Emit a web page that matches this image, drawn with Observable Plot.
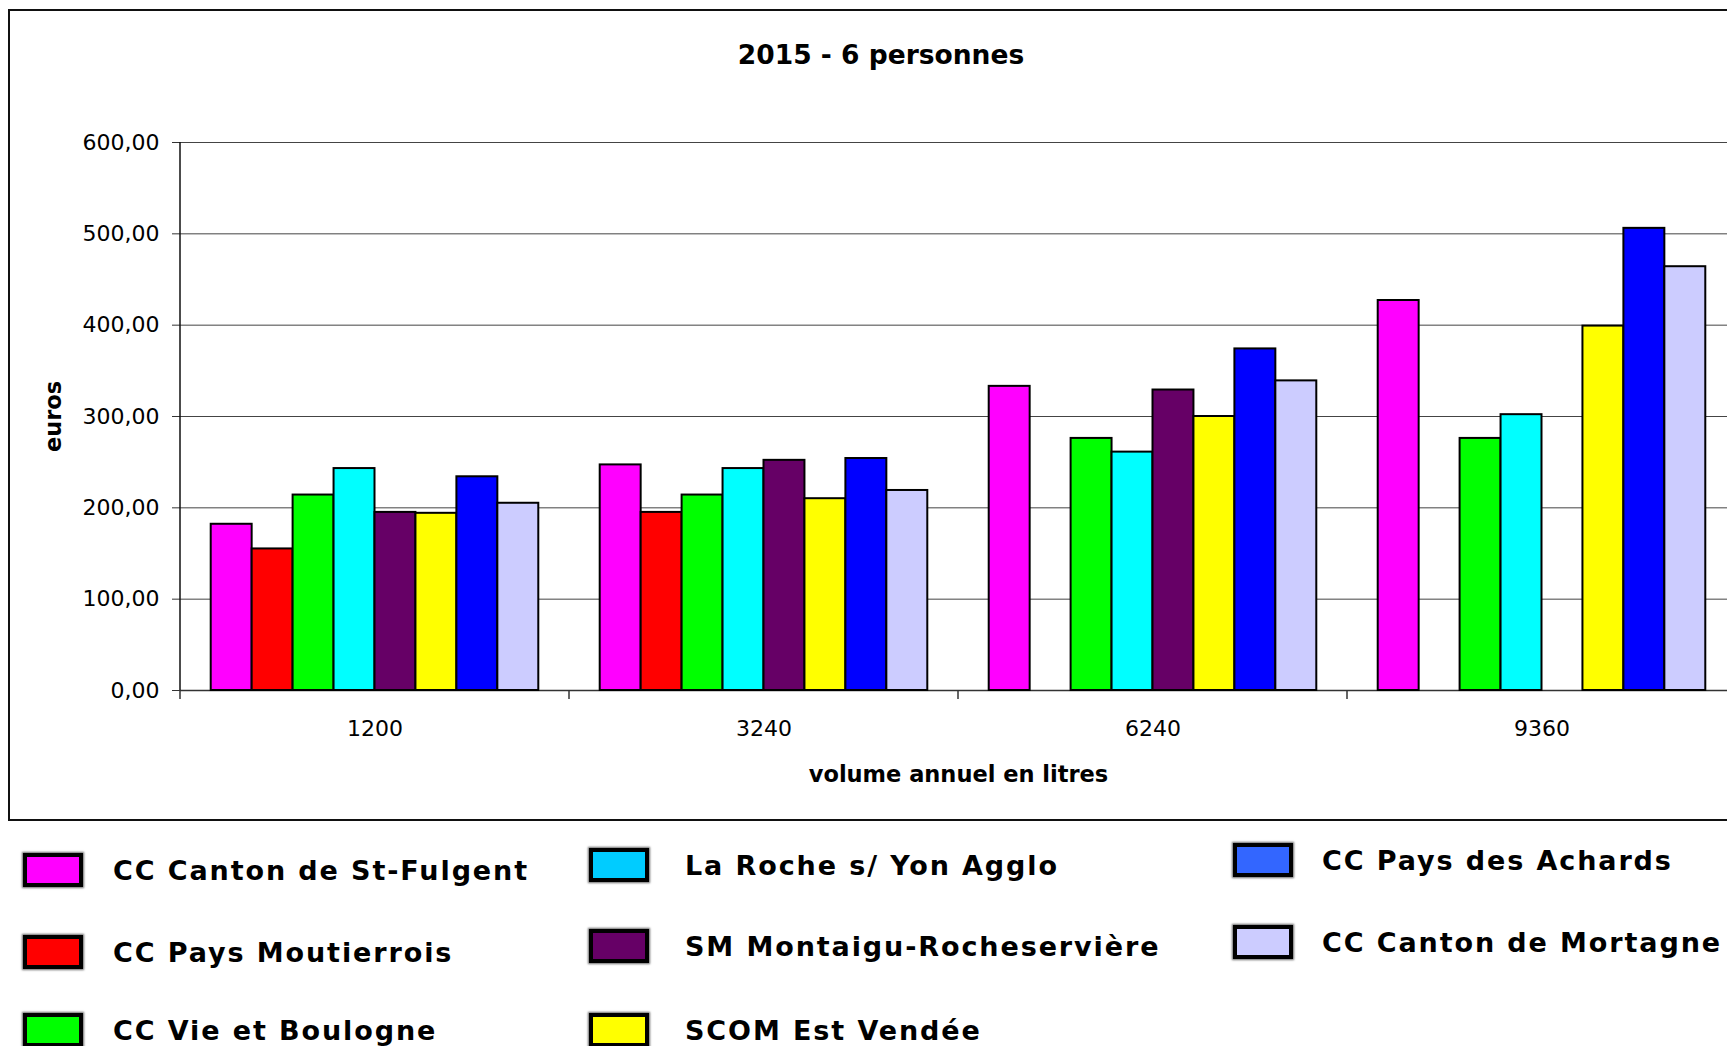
<!DOCTYPE html>
<html>
<head>
<meta charset="utf-8">
<script src="https://cdn.jsdelivr.net/npm/d3@7"></script>
<script src="https://cdn.jsdelivr.net/npm/@observablehq/plot@0.6"></script>
<style>
  html, body { margin: 0; padding: 0; background: #fff; overflow: hidden; width: 1727px; height: 1046px; }
  #frame { position: absolute; left: 8px; top: 9px; width: 1746px; height: 812px; border: 2.5px solid #111; box-sizing: border-box; }
  #title { position: absolute; left: 9px; width: 1744px; top: 42px; text-align: center;
           font: bold 26.5px/1 "DejaVu Sans"; color: #000; }
  #chart { position: absolute; left: 0; top: 0; width: 1750px; }
  #chart svg { max-width: none !important; }
  .lg { position: absolute; display: flex; align-items: center; height: 34px;
        font: bold 27px/1 "DejaVu Sans"; letter-spacing: 1.9px; color: #000; white-space: nowrap; }
  .sw { width: 60px; height: 34px; box-sizing: border-box; border: 4px solid #000;
        box-shadow: 0 0 2px 1px rgba(0,0,0,0.6); flex: none; }
  svg text { font-family: "DejaVu Sans"; }
  g[aria-label="fx-axis label"] text, g[aria-label="y-axis label"] text { font-weight: bold; font-size: 22.5px; }
</style>
</head>
<body>
<div id="frame"></div>
<div id="title"></div>
<div id="chart"></div>
<div id="legend"></div>
<script>
// ---- data ----
const titleText = "2015 - 6 personnes";
const xTitle = "volume annuel en litres";
const yTitle = "euros";
const volumes = ["1200", "3240", "6240", "9360"];
const series = [
  "CC Canton de St-Fulgent",
  "CC Pays Moutierrois",
  "CC Vie et Boulogne",
  "La Roche s/ Yon Agglo",
  "SM Montaigu-Rocheservière",
  "SCOM Est Vendée",
  "CC Pays des Achards",
  "CC Canton de Mortagne"
];
const stFulgent   = [182, 247, 333, 427];
const moutierrois = [155, 195, null, null];
const vieBoulogne = [214, 214, 276, 276];
const laRoche     = [243, 243, 261, 302];
const montaigu    = [195, 252, 329, null];
const scomEst     = [194, 210, 300, 399];
const achards     = [234, 254, 374, 506];
const mortagne    = [205, 219, 339, 464];
const yTicks = [0, 100, 200, 300, 400, 500, 600];
const barColors    = ["#FF00FF", "#FF0000", "#00FF00", "#00FFFF", "#660066", "#FFFF00", "#0000FF", "#CCCCFF"];
const legendColors = ["#FF00FF", "#FF0000", "#00FF00", "#00CCFF", "#660066", "#FFFF00", "#3366FF", "#CCCCFF"];

const valuesBySeries = [stFulgent, moutierrois, vieBoulogne, laRoche, montaigu, scomEst, achards, mortagne];
const rows = [];
series.forEach((s, i) => volumes.forEach((v, j) => {
  const val = valuesBySeries[i][j];
  if (val != null) rows.push({series: s, volume: v, value: val});
}));

document.getElementById("title").textContent = titleText;

const fmt = d => d.toFixed(2).replace(".", ",");

const chart = Plot.plot({
  width: 1750,
  height: 820,
  marginLeft: 180,
  marginRight: 14,
  marginTop: 142,
  marginBottom: 130,
  style: {fontFamily: "DejaVu Sans", fontSize: "22px", background: "transparent", overflow: "visible", maxWidth: "none"},
  fx: {domain: volumes, padding: 0, round: false},
  x: {domain: series, paddingInner: 0, paddingOuter: 0.75, round: false, axis: null},
  y: {domain: [0, 600]},
  color: {domain: series, range: barColors},
  marks: [
    Plot.gridY(yTicks, {stroke: "#444", strokeOpacity: 1, strokeWidth: 1}),
    Plot.ruleY([0], {stroke: "#333", strokeWidth: 1.5}),
    Plot.barY(rows, {fx: "volume", x: "series", y: "value", fill: "series", stroke: "#000", strokeWidth: 2}),
    Plot.axisY(yTicks, {tickFormat: fmt, tickSize: 8, tickPadding: 13, fontSize: 22, stroke: "#333",
      label: yTitle, labelAnchor: "center", labelOffset: 135, labelArrow: false}),
    Plot.axisFx({anchor: "bottom", tickSize: 0, tickPadding: 30, fontSize: 22,
      label: xTitle, labelAnchor: "center", labelOffset: 91, labelArrow: false})
  ]
});
document.getElementById("chart").appendChild(chart);

// boundary ticks below the baseline and the y axis line, from the plot's own scales
const svgEl = chart.tagName.toLowerCase() === "svg" ? chart : chart.querySelector("svg");
svgEl.style.maxWidth = "none";
const fxS = chart.scale("fx"), yS = chart.scale("y");
const fxBand = d3.scaleBand(fxS.domain, fxS.range).padding(0);
const yLin = d3.scaleLinear(yS.domain, yS.range);
const y0 = yLin(0);
const edges = fxBand.domain().map(d => fxBand(d)).concat([fxBand(fxBand.domain().at(-1)) + fxBand.bandwidth()]);
const g = d3.select(svgEl).append("g");
g.selectAll("line.edge").data(edges).join("line")
  .attr("x1", d => d).attr("x2", d => d).attr("y1", y0).attr("y2", y0 + 9)
  .attr("stroke", "#333").attr("stroke-width", 1.5);
g.append("line").attr("x1", edges[0]).attr("x2", edges[0])
  .attr("y1", yLin(600)).attr("y2", y0).attr("stroke", "#111").attr("stroke-width", 1.5);

// ---- legend ----
const legendCols = [
  {left: 23, textGap: 30, centers: [870, 952, 1030]},
  {left: 589, textGap: 36, centers: [865, 946, 1030]},
  {left: 1233, textGap: 29, centers: [860, 942]}
];
const legend = document.getElementById("legend");
let k = 0;
legendCols.forEach(col => col.centers.forEach(c => {
  const i = k++;
  const item = document.createElement("div");
  item.className = "lg";
  item.style.left = col.left + "px";
  item.style.top = (c - 17) + "px";
  const sw = document.createElement("div");
  sw.className = "sw";
  sw.style.background = legendColors[i];
  sw.style.marginRight = col.textGap + "px";
  const t = document.createElement("span");
  t.textContent = series[i];
  item.appendChild(sw); item.appendChild(t);
  legend.appendChild(item);
}));
</script>
</body>
</html>
